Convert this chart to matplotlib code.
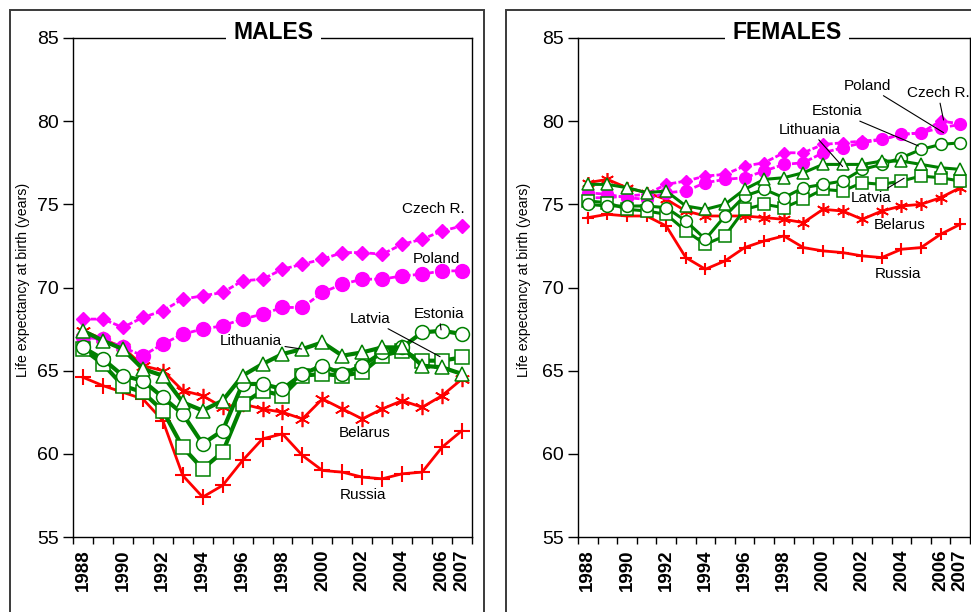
import matplotlib
matplotlib.use("Agg")
import matplotlib.pyplot as plt
from matplotlib.patches import Rectangle
import numpy as np

plt.rcParams['font.family'] = ['Liberation Sans', 'DejaVu Sans']

years = list(range(1988, 2008))
year_labels = ['1988', '1990', '1992', '1994', '1996', '1998', '2000', '2002', '2004', '2006', '2007']

# life expectancy at birth, males
czech_m = [68.1, 68.1, 67.6, 68.2, 68.6, 69.3, 69.5, 69.7, 70.4, 70.5, 71.1, 71.4, 71.7, 72.1, 72.1, 72.0, 72.6, 72.9, 73.4, 73.7]
poland_m = [67.0, 66.9, 66.4, 65.9, 66.6, 67.2, 67.5, 67.7, 68.1, 68.4, 68.8, 68.8, 69.7, 70.2, 70.5, 70.5, 70.7, 70.8, 71.0, 71.0]
estonia_m = [66.4, 65.7, 64.7, 64.4, 63.4, 62.4, 60.6, 61.4, 64.2, 64.2, 63.9, 64.8, 65.3, 64.8, 65.3, 66.1, 66.4, 67.3, 67.4, 67.2]
latvia_m = [66.3, 65.4, 64.1, 63.7, 62.6, 60.4, 59.1, 60.1, 63.0, 63.8, 63.5, 64.7, 64.8, 64.7, 64.9, 65.9, 66.2, 65.6, 65.6, 65.8]
lithuania_m = [67.4, 66.8, 66.3, 65.1, 64.7, 63.1, 62.6, 63.2, 64.7, 65.4, 66.0, 66.3, 66.7, 65.9, 66.1, 66.4, 66.4, 65.3, 65.2, 64.8]
belarus_m = [67.4, 66.9, 66.4, 65.3, 65.0, 63.8, 63.5, 62.8, 63.0, 62.7, 62.5, 62.1, 63.3, 62.7, 62.1, 62.7, 63.2, 62.8, 63.5, 64.5]
russia_m = [64.6, 64.1, 63.7, 63.3, 62.0, 58.7, 57.4, 58.1, 59.6, 60.9, 61.2, 59.9, 59.0, 58.9, 58.6, 58.5, 58.8, 58.9, 60.4, 61.4]

# life expectancy at birth, females
czech_f = [75.4, 75.4, 75.5, 75.6, 76.2, 76.4, 76.7, 76.8, 77.3, 77.5, 78.1, 78.1, 78.6, 78.7, 78.8, 78.9, 79.2, 79.3, 80.0, 79.85]
poland_f = [75.7, 75.6, 75.4, 75.3, 75.7, 75.8, 76.3, 76.5, 76.6, 77.0, 77.4, 77.5, 78.1, 78.4, 78.7, 78.9, 79.2, 79.3, 79.6, 79.8]
estonia_f = [75.0, 74.9, 74.9, 74.9, 74.8, 74.0, 72.9, 74.3, 75.5, 75.9, 75.4, 76.0, 76.2, 76.4, 77.1, 77.4, 77.8, 78.3, 78.6, 78.7]
latvia_f = [75.2, 75.1, 74.7, 74.6, 74.4, 73.4, 72.6, 73.1, 74.7, 75.0, 74.8, 75.3, 75.9, 75.8, 76.3, 76.2, 76.4, 76.7, 76.6, 76.4]
lithuania_f = [76.2, 76.2, 76.0, 75.7, 75.8, 74.9, 74.7, 75.0, 75.9, 76.5, 76.6, 76.9, 77.4, 77.4, 77.4, 77.6, 77.6, 77.4, 77.2, 77.1]
belarus_f = [76.3, 76.5, 76.0, 75.7, 75.3, 74.6, 74.3, 74.3, 74.3, 74.2, 74.1, 73.9, 74.7, 74.6, 74.1, 74.6, 74.9, 75.0, 75.4, 76.0]
russia_f = [74.2, 74.4, 74.3, 74.3, 73.7, 71.8, 71.1, 71.6, 72.4, 72.8, 73.1, 72.4, 72.2, 72.1, 71.9, 71.8, 72.3, 72.4, 73.2, 73.8]

MAGENTA = '#ff00ff'
GREEN = '#008000'
RED = '#ff0000'


def draw_series(ax, data, scale, green_lw):
    x = np.arange(len(years))
    ms = lambda s: s * scale
    ax.plot(x, data['russia'], color=RED, lw=2, marker='+', ms=ms(11), mew=1.5, zorder=3)
    ax.plot(x, data['belarus'], color=RED, lw=2, marker=(6, 2, 0), ms=ms(11), mew=1.2, zorder=3)
    ax.plot(x, data['czech'], color=MAGENTA, lw=2, ls=(0, (2, 0.8)), marker='D', ms=ms(7.5),
            mfc=MAGENTA, mec=MAGENTA, zorder=4)
    ax.plot(x, data['poland'], color=MAGENTA, lw=2, ls=(0, (2, 0.8)), marker='o', ms=ms(10),
            mfc=MAGENTA, mec=MAGENTA, zorder=4)
    ax.plot(x, data['latvia'], color=GREEN, lw=green_lw, marker='s', ms=ms(9.5), mfc='white',
            mec=GREEN, mew=1.1, zorder=5)
    ax.plot(x, data['estonia'], color=GREEN, lw=green_lw, marker='o', ms=ms(10), mfc='white',
            mec=GREEN, mew=1.1, zorder=5)
    ax.plot(x, data['lithuania'], color=GREEN, lw=green_lw, marker='^', ms=ms(10.5), mfc='white',
            mec=GREEN, mew=1.1, zorder=5)


def style_axes(ax, title, title_x):
    ax.set_xlim(-0.5, len(years) - 0.5)
    ax.set_ylim(55, 85)
    ax.set_yticks(range(55, 86, 5))
    ax.tick_params(axis='y', labelsize=14, length=7, width=1, direction='out', pad=3)
    lab_pos = [years.index(int(y)) for y in year_labels]
    ax.set_xticks(lab_pos)
    ax.set_xticklabels(year_labels, rotation=90, fontsize=13.5, fontweight='bold')
    ax.set_xticks(np.arange(-0.5, len(years), 1), minor=True)
    ax.tick_params(axis='x', which='major', length=0, pad=9)
    ax.tick_params(axis='x', which='minor', length=5, width=1, direction='out')
    for sp in ax.spines.values():
        sp.set_linewidth(1)
        sp.set_color('black')
    ax.set_ylabel('Life expectancy at birth (years)', fontsize=10.2)
    ax.text(title_x, 1.012, title, transform=ax.transAxes, ha='center', va='center',
            fontsize=16.5, fontweight='bold', zorder=10, clip_on=False,
            bbox=dict(boxstyle='square,pad=0.33', fc='white', ec='none'))


def label(ax, text, xy_text, xy_point=None):
    if xy_point is None:
        ax.text(xy_text[0], xy_text[1], text, ha='center', va='center', fontsize=11, zorder=8)
    else:
        ax.annotate(text, xy=xy_point, xytext=xy_text, ha='center', va='center', fontsize=11,
                    zorder=8, arrowprops=dict(arrowstyle='-', lw=0.8, color='black',
                                              shrinkA=0, shrinkB=0))


fig = plt.figure(figsize=(9.71, 6.12), dpi=100)

# panel frames
fig.add_artist(Rectangle((10 / 971, -0.05), 474 / 971, 1.05 - 10 / 612, transform=fig.transFigure,
                         fill=False, ec='#3a3a3a', lw=1.4))
fig.add_artist(Rectangle((506 / 971, -0.05), 0.6, 1.05 - 10 / 612, transform=fig.transFigure,
                         fill=False, ec='#3a3a3a', lw=1.4))

ax1 = fig.add_axes([73 / 971, 75 / 612, 399 / 971, 499 / 612])
ax2 = fig.add_axes([578 / 971, 75 / 612, 392 / 971, 499 / 612])

draw_series(ax1, dict(czech=czech_m, poland=poland_m, estonia=estonia_m, latvia=latvia_m,
                      lithuania=lithuania_m, belarus=belarus_m, russia=russia_m), 1.0, 3)
draw_series(ax2, dict(czech=czech_f, poland=poland_f, estonia=estonia_f, latvia=latvia_f,
                      lithuania=lithuania_f, belarus=belarus_f, russia=russia_f), 0.85, 2.2)

style_axes(ax1, 'MALES', 0.503)
style_axes(ax2, 'FEMALES', 0.533)
ax1.yaxis.set_label_coords(-0.108, 0.515)
ax2.yaxis.set_label_coords(-0.12, 0.515)

# country labels, males
label(ax1, 'Czech R.', (17.56, 74.72))
label(ax1, 'Poland', (17.7, 71.72))
label(ax1, 'Estonia', (17.84, 68.41), (17.95, 67.45))
label(ax1, 'Latvia', (14.38, 68.11), (17.9, 65.84))
label(ax1, 'Lithuania', (8.43, 66.76), (10.96, 66.3))
label(ax1, 'Belarus', (14.13, 61.25))
label(ax1, 'Russia', (14.05, 57.53))

# country labels, females
label(ax2, 'Poland', (14.27, 82.12), (18.15, 79.31))
label(ax2, 'Czech R.', (17.87, 81.67), (18.15, 80.07))
label(ax2, 'Estonia', (12.7, 80.59), (16.87, 78.51))
label(ax2, 'Lithuania', (11.34, 79.47), (13.0, 77.27))
label(ax2, 'Latvia', (14.45, 75.38), (16.14, 76.57))
label(ax2, 'Belarus', (15.93, 73.76))
label(ax2, 'Russia', (15.83, 70.81))

fig.savefig('out.png', dpi=100)
